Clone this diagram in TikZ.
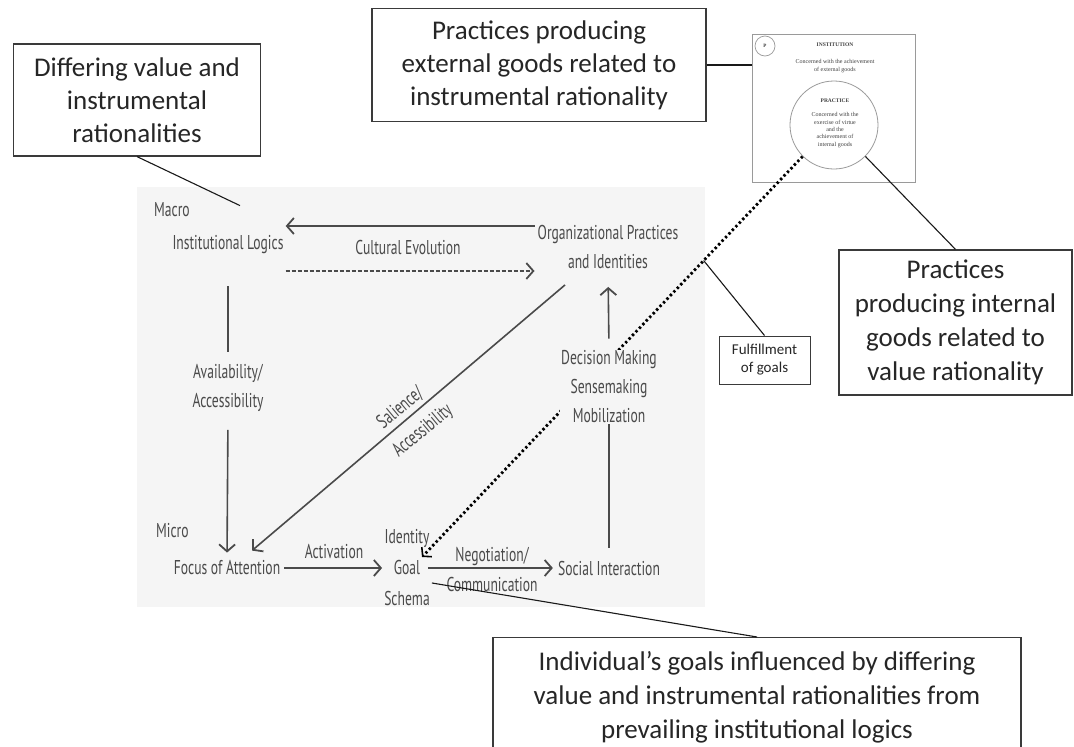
\documentclass[tikz,border=0pt]{standalone}
\usepackage{fontspec}
\usetikzlibrary{arrows.meta,calc}
\newfontfamily\calloutfont{Carlito}
\newfontfamily\modelfont[FakeStretch=0.68]{PT Sans}
\newfontfamily\plotfont{Liberation Serif}
\definecolor{modelgrey}{HTML}{4A4A4A}
\definecolor{panelbg}{HTML}{F5F5F5}
\definecolor{boxline}{HTML}{3A3A3A}
\definecolor{figline}{HTML}{9A9A9A}
\begin{document}
\begin{tikzpicture}[x=1pt,y=-1pt,
  model/.style={font=\modelfont\fontsize{20}{29}\selectfont, text=modelgrey, inner sep=0pt, align=center},
  callout/.style={draw=boxline, line width=1.2pt, fill=white, font=\calloutfont\fontsize{27}{33}\selectfont, text=black!85, align=center, inner sep=0pt},
  link/.style={draw=modelgrey, line width=1.6pt},
  arr/.style={link, -{Straight Barb[length=7pt,width=16pt,line width=1.8pt]}},
  dasharr/.style={arr, line width=1.4pt, dash pattern=on 4pt off 2pt},
  dotline/.style={draw=black, line width=2.8pt, dash pattern=on 2.4pt off 2.6pt, -{Straight Barb[length=6pt,width=14pt,line width=1.6pt]}},
  callink/.style={draw=black!90, line width=1.1pt},
  figtext/.style={font=\plotfont\fontsize{6}{7.4}\selectfont, text=black!75, inner sep=0pt, align=center},
]
\useasboundingbox (0,0) rectangle (1074,747);
\clip (0,0) rectangle (1074,747);
\fill[white] (0,0) rectangle (1074,747);

% grey panel of the cross-level model
\fill[panelbg] (137,187) rectangle (705,607);

% model labels
\node[model, anchor=west] (macro) at (154,210) {Macro};
\node[model] (inst) at (228,245) {Institutional Logics};
\node[model] (cult) at (408,247) {Cultural Evolution};
\node[model] (org) at (608,247) {Organizational Practices\\and Identities};
\node[model] (avail) at (228,388) {Availability/\\Accessibility};
\node[model, anchor=west] (micro) at (156,531) {Micro};
\node[model] (focus) at (227,568) {Focus of Attention};
\node[model] (activ) at (334,552) {Activation};
\node[model, font=\modelfont\fontsize{20}{31}\selectfont] (goal) at (407,568) {Identity\\Goal\\Schema};
\node[model, font=\modelfont\fontsize{20}{30}\selectfont] (nego) at (492,569) {Negotiation/\\Communication};
\node[model] (social) at (609,568) {Social Interaction};

% endpoints derived from the labels
\coordinate (salstart) at ($(org.south)+(-43,16)$);
\coordinate (salend) at ($(focus.north)+(25,-10)$);
\coordinate (salmid) at ($(salstart)!0.5!(salend)$);
\coordinate (gtip) at ($(goal.center)+(15,-11)$);
\coordinate (goalfoot) at ($(goal.east)+(2,15)$);
\coordinate (diffend) at ($(inst.north)+(12,-30)$);

% top-right figure: institution frame and practice circle
\node[draw=figline, line width=0.9pt, fill=white, minimum width=163, minimum height=148, inner sep=0] (fig) at (833.5,108) {};
\node[circle, draw=figline, line width=0.7pt, minimum size=20, inner sep=0, font=\plotfont\fontsize{5}{6}\selectfont\bfseries, text=black!75] (pmark) at (765,46) {P};
\node[figtext, font=\plotfont\fontsize{5.5}{7}\selectfont\bfseries] (insttitle) at (835,45) {INSTITUTION};
\node[figtext] (insttext) at (835,66) {Concerned with the achievement\\of external goods};
\node[circle, draw=figline, line width=0.8pt, minimum size=88, inner sep=0] (pcirc) at (834,125) {};
\node[figtext, font=\plotfont\fontsize{5.5}{7}\selectfont\bfseries] (practitle) at (835,101) {PRACTICE};
\node[figtext] (practext) at (835,130) {Concerned with the\\exercise of virtue\\and the\\achievement of\\internal goods};

% links of the model
\draw[arr, shorten <=3pt, shorten >=2pt] ([yshift=21pt]org.west) -- ([yshift=19pt]inst.east);
\draw[dasharr, shorten <=2pt, shorten >=3pt] ([yshift=-26pt]inst.east) -- ([yshift=-24pt]org.west);
\draw[link, shorten <=32pt, shorten >=12pt] (inst.south) -- (avail.north);
\draw[arr, shorten <=18pt, shorten >=8pt] (avail.south) -- (focus.north);
\draw[arr, shorten <=4pt, shorten >=2pt] (focus.east) -- (goal.west);
\draw[arr, shorten <=-2pt, shorten >=5pt] (goal.east) -- (social.west);
\draw[arr] (salstart) -- (salend);
\node[model, rotate=39.7, anchor=south, inner sep=4pt] (sal1) at (salmid) {Salience/};
\node[model, rotate=39.7, anchor=north, inner sep=4pt] (sal2) at ($(salmid)+(6,3)$) {Accessibility};

% fulfilment of goals: dotted return path
\draw[dotline] (pcirc.225) -- (gtip);
\node[model, fill=panelbg, inner sep=1pt] (dec) at (609,387) {Decision Making\\Sensemaking\\Mobilization};
\draw[link, shorten <=13pt] (social.north) -- (dec.south);
\draw[arr, shorten <=11pt, shorten >=18pt] (dec.north) -- (org.south);

% callout boxes
\node[callout, minimum width=247, minimum height=112] (diff) at (137,100) {Differing value and\\instrumental\\rationalities};
\node[callout, minimum width=334, minimum height=113] (ext) at (539,65) {Practices producing\\external goods related to\\instrumental rationality};
\node[callout, minimum width=233, minimum height=145, font=\calloutfont\fontsize{27}{34}\selectfont] (int) at (955.5,322.5) {Practices\\producing internal\\goods related to\\value rationality};
\node[callout, minimum width=91, minimum height=48, line width=1pt, font=\calloutfont\fontsize{15}{18}\selectfont] (ful) at (764.5,360) {Fulfillment\\of goals};
\node[callout, anchor=north, minimum width=528, inner ysep=14pt, font=\calloutfont\fontsize{27}{34}\selectfont] (indiv) at (757,637) {Individual’s goals influenced by differing\\value and instrumental rationalities from\\prevailing institutional logics};

% callout leaders
\draw[callink] (diff.south) -- (diffend);
\draw[callink] (ext.east) -- (ext.east -| fig.west);
\draw[callink] (int.north) -- (pcirc.-45);
\draw[callink] (ful.north) -- ($(pcirc.225)!0.26!(gtip)$);
\draw[callink] (goalfoot) -- (indiv.north);
\end{tikzpicture}
\end{document}
